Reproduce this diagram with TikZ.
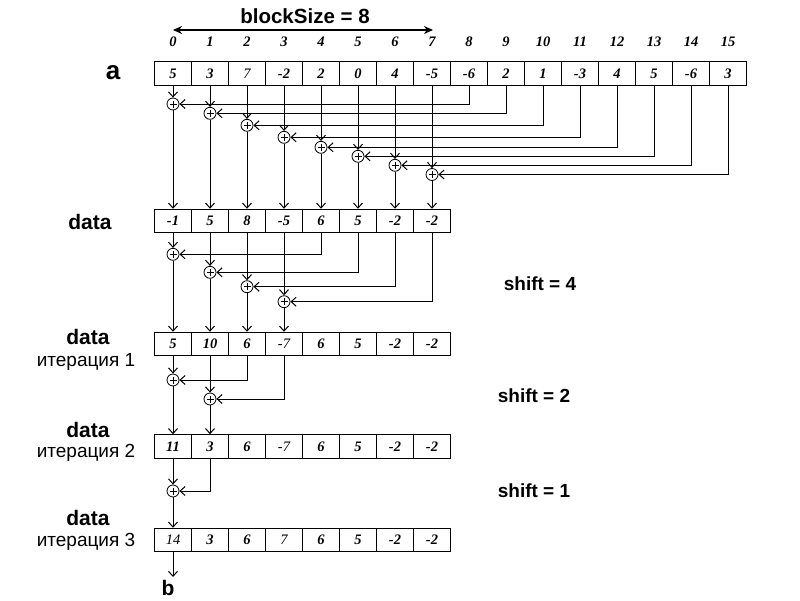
\documentclass[tikz,border=0pt]{standalone}
\usepackage{fontspec}
\setmainfont{Liberation Serif}
\newfontfamily\lsans{Liberation Sans}
\usetikzlibrary{arrows.meta}
\tikzset{
  cell/.style={draw, line width=1pt, minimum width=37pt, minimum height=23.5pt, inner sep=0pt,
    font=\fontsize{14.5}{14.5}\selectfont\itshape},
  idx/.style={font=\fontsize{14.5}{14.5}\selectfont\bfseries\itshape, inner sep=0pt},
  adder/.style={draw, circle, minimum size=12pt, inner sep=0pt, line width=0.8pt,
    path picture={\draw[line width=0.8pt] (path picture bounding box.center) +(-3.5pt,0) -- +(3.5pt,0)
      (path picture bounding box.center) +(0,-3.5pt) -- +(0,3.5pt);}},
  conn/.style={line width=1pt, -{Straight Barb[length=5pt,width=9pt]}},
  lbl/.style={font=\lsans\bfseries\fontsize{21}{21}\selectfont, inner sep=0pt},
  sub/.style={font=\lsans\fontsize{19}{19}\selectfont, inner sep=0pt},
  shiftlbl/.style={font=\lsans\bfseries\fontsize{19}{19}\selectfont, inner sep=0pt},
  titlelbl/.style={font=\lsans\bfseries\fontsize{20.5}{20.5}\selectfont, inner sep=0pt},
  big/.style={font=\lsans\bfseries\fontsize{26}{26}\selectfont, inner sep=0pt},
  dbl/.style={line width=2pt, {Stealth[length=9pt,width=8pt]}-{Stealth[length=9pt,width=8pt]}}
}
\begin{document}
\begin{tikzpicture}[x=1pt,y=-1pt]
\path[use as bounding box] (0,0) rectangle (800,600);

% title arrow
\node[titlelbl] (bs) at (305,16) {blockSize = 8};
\coordinate (bl) at (173,30);
\coordinate (br) at (433,30);
\draw[dbl] (bl) -- (br);

% index labels
\foreach \i in {0,...,15} \node[idx] (ix\i) at ({173+37*\i},42) {\i};

% array a
\node[big] (la) at (113,73) {a};
\foreach \v/\f [count=\k from 0] in {5/\bfseries,3/\bfseries,7/,-2/\bfseries,2/\bfseries,0/\bfseries,4/\bfseries,-5/\bfseries,-6/\bfseries,2/\bfseries,1/\bfseries,-3/\bfseries,4/\bfseries,5/\bfseries,-6/\bfseries,3/\bfseries}
  \node[cell] (a\k) at ({173+37*\k},73.5) {\f\v};

% stage 1 adders
\foreach \y [count=\k from 0] in {104,113.3,125.3,137.3,147.3,156.3,165.3,174.5}
  \node[adder] (p\k) at ({173+37*\k},\y) {};

% data row
\node[lbl] (ld) at (90,222) {data};
\foreach \v/\f [count=\k from 0] in {-1/\bfseries,5/\bfseries,8/\bfseries,-5/\bfseries,6/\bfseries,5/\bfseries,-2/\bfseries,-2/\bfseries}
  \node[cell] (d\k) at ({173+37*\k},221) {\f\v};

\foreach \k in {0,...,7} {
  \pgfmathtruncatemacro\j{\k+8}
  \draw[conn] (a\k.south) -- (p\k.north);
  \draw[conn] (a\j.south) |- (p\k.east);
  \draw[conn] (p\k.south) -- (d\k.north);
}

% stage 2
\foreach \y [count=\k from 0] in {254.3,272.3,286.7,301.7}
  \node[adder] (q\k) at ({173+37*\k},\y) {};
\node[shiftlbl] (s4) at (540,284) {shift = 4};

\node[lbl] (le1) at (88,337) {data};
\node[sub] (ie1) at (86,362) {итерация 1};
\foreach \v/\f [count=\k from 0] in {5/\bfseries,10/\bfseries,6/\bfseries,-7/,6/\bfseries,5/\bfseries,-2/\bfseries,-2/\bfseries}
  \node[cell] (e\k) at ({173+37*\k},344) {\f\v};

\foreach \k in {0,...,3} {
  \pgfmathtruncatemacro\j{\k+4}
  \draw[conn] (d\k.south) -- (q\k.north);
  \draw[conn] (d\j.south) |- (q\k.east);
  \draw[conn] (q\k.south) -- (e\k.north);
}

% stage 3
\foreach \y [count=\k from 0] in {380,399}
  \node[adder] (r\k) at ({173+37*\k},\y) {};
\node[shiftlbl] (s2) at (534,396) {shift = 2};

\node[lbl] (le2) at (88,430) {data};
\node[sub] (ie2) at (86,453) {итерация 2};
\foreach \v/\f [count=\k from 0] in {11/\bfseries,3/\bfseries,6/\bfseries,-7/,6/\bfseries,5/\bfseries,-2/\bfseries,-2/\bfseries}
  \node[cell] (f\k) at ({173+37*\k},446.5) {\f\v};

\foreach \k in {0,1} {
  \pgfmathtruncatemacro\j{\k+2}
  \draw[conn] (e\k.south) -- (r\k.north);
  \draw[conn] (e\j.south) |- (r\k.east);
  \draw[conn] (r\k.south) -- (f\k.north);
}

% stage 4
\node[adder] (t0) at (173,491) {};
\node[shiftlbl] (s1) at (534,491) {shift = 1};

\node[lbl] (le3) at (88,518) {data};
\node[sub] (ie3) at (86,542) {итерация 3};
\foreach \v/\f [count=\k from 0] in {14/,3/\bfseries,6/\bfseries,7/,6/\bfseries,5/\bfseries,-2/\bfseries,-2/\bfseries}
  \node[cell] (g\k) at ({173+37*\k},540) {\f\v};

\draw[conn] (f0.south) -- (t0.north);
\draw[conn] (f1.south) |- (t0.east);
\draw[conn] (t0.south) -- (g0.north);

% output b
\coordinate (bend) at (173,577);
\draw[conn] (g0.south) -- (bend);
\node[lbl] (lb) at (168,588) {b};
\end{tikzpicture}
\end{document}
